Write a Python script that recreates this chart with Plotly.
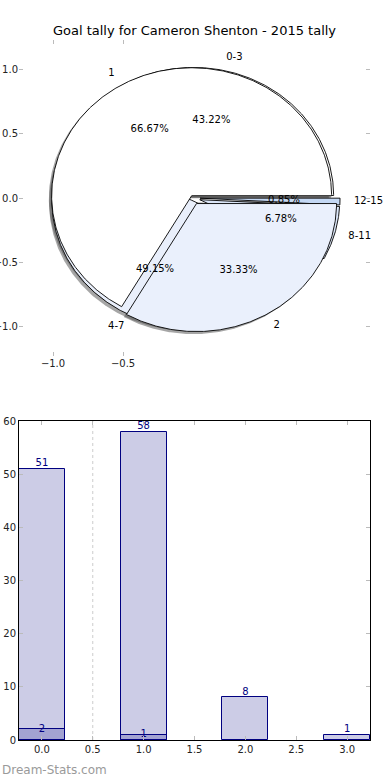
import numpy as np
import plotly.graph_objects as go

# ---------------- data ----------------
title_text = "Goal tally for Cameron Shenton - 2015 tally"
goal_bins = ["0-3", "4-7", "8-11", "12-15"]
goal_counts = [51, 58, 8, 1]
multi_labels = ["1", "2"]
multi_counts = [2, 1]
bar_x = [0, 1, 2, 3]
bar_totals = [51, 58, 8, 1]
overlay_x = [0, 1]
overlay_vals = [2, 1]
pie_xticks = [-1.0, -0.5]
pie_xtick_text = ["\u22121.0", "\u22120.5"]
pie_yticks = [-1.0, -0.5, 0.0, 0.5, 1.0]
pie_ytick_text = ["\u22121.0", "\u22120.5", "0.0", "0.5", "1.0"]

# ---------------- style ----------------
FONT = "DejaVu Sans"
goal_colors = ["#ffffff", "#e9effb", "#dbe6f8", "#c4d8f4"]
multi_colors = ["#ffffff", "#eaf0fc"]
goal_explode = [0.02, 0.02, 0.05, 0.05]
multi_explode = [0.02, 0.05]
shadow_col = "rgba(77,77,77,0.5)"


def wedges(values, explode):
    total = float(sum(values))
    out = []
    start = 0.0
    for v, e in zip(values, explode):
        frac = v / total
        t1, t2 = start * 360.0, (start + frac) * 360.0
        mid = np.deg2rad((t1 + t2) / 2.0)
        cx, cy = e * np.cos(mid), e * np.sin(mid)
        t = np.deg2rad(np.linspace(t1, t2, max(3, int(t2 - t1) * 2 + 2)))
        xs = np.concatenate([[cx], cx + np.cos(t), [cx]])
        ys = np.concatenate([[cy], cy + np.sin(t), [cy]])
        out.append(dict(xs=xs, ys=ys, cx=cx, cy=cy, mid=mid, frac=frac))
        start += frac
    return out


goal_w = wedges(goal_counts, goal_explode)
multi_w = wedges(multi_counts, multi_explode)

fig = go.Figure()

# shadows (below everything)
for w in goal_w + multi_w:
    fig.add_trace(go.Scatter(x=w["xs"] - 0.02, y=w["ys"] - 0.02, mode="lines",
                             fill="toself", fillcolor=shadow_col,
                             line=dict(width=0, color="rgba(0,0,0,0)"),
                             hoverinfo="skip", showlegend=False,
                             xaxis="x", yaxis="y"))

# goal-bin pie, then multi pie on top
for ws, cols in ((goal_w, goal_colors), (multi_w, multi_colors)):
    for w, c in zip(ws, cols):
        fig.add_trace(go.Scatter(x=w["xs"], y=w["ys"], mode="lines",
                                 fill="toself", fillcolor=c,
                                 line=dict(width=0.9, color="black"),
                                 hoverinfo="skip", showlegend=False,
                                 xaxis="x", yaxis="y"))

# labels and percentages
for ws, labs in ((goal_w, goal_bins), (multi_w, multi_labels)):
    for w, lab in zip(ws, labs):
        lx = w["cx"] + 1.1 * np.cos(w["mid"])
        ly = w["cy"] + 1.1 * np.sin(w["mid"])
        pos = "middle right" if lx > 0 else "middle left"
        fig.add_trace(go.Scatter(x=[lx], y=[ly], mode="text", text=[lab],
                                 textposition=pos, cliponaxis=False,
                                 textfont=dict(family=FONT, size=10, color="black"),
                                 hoverinfo="skip", showlegend=False,
                                 xaxis="x", yaxis="y"))
        px = w["cx"] + 0.6 * np.cos(w["mid"])
        py = w["cy"] + 0.6 * np.sin(w["mid"])
        fig.add_trace(go.Scatter(x=[px], y=[py], mode="text",
                                 text=["%1.2f%%" % (w["frac"] * 100)],
                                 textposition="middle center", cliponaxis=False,
                                 textfont=dict(family=FONT, size=10, color="black"),
                                 hoverinfo="skip", showlegend=False,
                                 xaxis="x", yaxis="y"))

# ---------------- bar chart ----------------
bar_fill = "rgba(0,0,128,0.2)"
fig.add_trace(go.Bar(x=bar_x, y=bar_totals, width=0.45, marker=dict(color=bar_fill,
                     line=dict(color="#000080", width=1)),
                     hoverinfo="skip", showlegend=False, xaxis="x2", yaxis="y2"))
fig.add_trace(go.Bar(x=overlay_x, y=overlay_vals, width=0.45, marker=dict(color=bar_fill,
                     line=dict(color="#000080", width=1)),
                     hoverinfo="skip", showlegend=False, xaxis="x2", yaxis="y2"))
fig.add_trace(go.Scatter(x=bar_x, y=bar_totals, mode="text",
                         text=[str(v) for v in bar_totals], textposition="top center",
                         textfont=dict(family=FONT, size=10, color="#000080"),
                         hoverinfo="skip", showlegend=False, xaxis="x2", yaxis="y2",
                         cliponaxis=False))
fig.add_trace(go.Scatter(x=overlay_x, y=overlay_vals, mode="text",
                         text=[str(v) for v in overlay_vals], textposition="middle center",
                         textfont=dict(family=FONT, size=10, color="#000080"),
                         hoverinfo="skip", showlegend=False, xaxis="x2", yaxis="y2",
                         cliponaxis=False))

tick_col = "#bbbbbb"
tickfont = dict(family=FONT, size=10, color="#222222")

fig.update_layout(
    template="none",
    width=390, height=780,
    margin=dict(l=19, r=20, t=40, b=40, autoexpand=False),
    paper_bgcolor="white", plot_bgcolor="rgba(0,0,0,0)",
    barmode="overlay",
    bargap=0,
    font=dict(family=FONT, size=10, color="#222222"),
    title=dict(text=title_text, x=0.5, xanchor="center", xref="paper",
               y=1 - 30 / 780, yref="container",
               yanchor="middle", font=dict(family=FONT, size=13, color="black")),
    xaxis=dict(domain=[0, 1], range=[-1.243, 1.264], tickvals=pie_xticks,
               ticktext=pie_xtick_text, showgrid=False, zeroline=False,
               showline=False, ticks="inside", ticklen=4, tickwidth=1,
               tickcolor=tick_col, mirror="ticks", tickfont=tickfont,
               anchor="y", fixedrange=True, automargin=False),
    yaxis=dict(domain=[(740 - 356) / 700, 1], range=[-1.234, 1.234],
               tickvals=pie_yticks, ticktext=pie_ytick_text, showgrid=False,
               zeroline=False, showline=False, ticks="inside", ticklen=4,
               tickwidth=1, tickcolor=tick_col, mirror="ticks", tickfont=tickfont,
               anchor="x", fixedrange=True, automargin=False),
    xaxis2=dict(domain=[0, 1], range=[-0.225, 3.225], dtick=0.5, tick0=0,
                tickformat=".1f", showgrid=False, zeroline=False, showline=True,
                linecolor="black", linewidth=1, mirror="ticks", ticks="inside",
                ticklen=4, tickwidth=1, tickcolor=tick_col, tickfont=tickfont,
                anchor="y2", fixedrange=True, automargin=False),
    yaxis2=dict(domain=[0, (740 - 421) / 700], range=[0, 60], dtick=10,
                showgrid=False, zeroline=False, showline=True, linecolor="black",
                linewidth=1, mirror="ticks", ticks="inside", ticklen=4, tickwidth=1,
                tickcolor=tick_col, tickfont=tickfont, anchor="x2", fixedrange=True,
                automargin=False),
    shapes=[dict(type="line", xref="x2", yref="y2 domain", x0=0.5, x1=0.5, y0=0, y1=1,
                 line=dict(color="#cccccc", width=1, dash="dot"), layer="below")],
    annotations=[dict(text="Dream-Stats.com", xref="paper", yref="paper",
                      x=-19 / 351, y=-(770 - 740) / 700, xanchor="left",
                      yanchor="middle", showarrow=False,
                      font=dict(family=FONT, size=12, color="#9a9a9a"))],
)

fig.write_html("out.html", config={"displayModeBar": False},
               post_script="document.body.style.margin='0';document.body.style.overflow='hidden';")
